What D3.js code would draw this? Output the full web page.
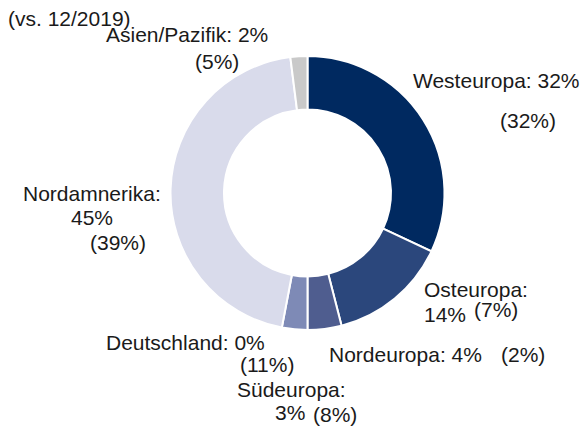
<!DOCTYPE html>
<html>
<head>
<meta charset="utf-8">
<script src="https://cdn.jsdelivr.net/npm/d3@7"></script>
<style>
  html, body { margin: 0; padding: 0; background: #fff; }
  svg text { font-family: "Liberation Sans", Arial, sans-serif; font-size: 21px; fill: #1a1a1a; }
</style>
</head>
<body>
<div id="chart"></div>
<script>
// regions, share now and share at 12/2019
const regions = ['Westeuropa', 'Osteuropa', 'Nordeuropa', 'Südeuropa', 'Deutschland', 'Nordamnerika', 'Asien/Pazifik'];
const shareNow = [32, 14, 4, 3, 0, 45, 2];
const share2019 = [32, 7, 2, 8, 11, 39, 5];
const colors = ['#002960', '#2b477c', '#4f5d8f', '#7e8ab6', '#a9b0d0', '#d9dbeb', '#c9c9c9'];

const w = 586, h = 427;
const cx = 307.5, cy = 193, outerR = 137, innerR = 83.5;

// label lines per region: [text, x, baseline]
const labelLayout = {
  'Westeuropa': [[r => r + ': ' + shareNow[0] + '%', 413, 88], [() => '(' + share2019[0] + '%)', 500, 128]],
  'Osteuropa': [[r => r + ':', 424, 297], [() => shareNow[1] + '%', 424, 322], [() => '(' + share2019[1] + '%)', 474, 317]],
  'Nordeuropa': [[r => r + ': ' + shareNow[2] + '%', 329, 362], [() => '(' + share2019[2] + '%)', 501, 362]],
  'Südeuropa': [[r => r + ':', 237, 397], [() => shareNow[3] + '%', 275, 420], [() => '(' + share2019[3] + '%)', 313, 422]],
  'Deutschland': [[r => r + ': ' + shareNow[4] + '%', 106, 350], [() => '(' + share2019[4] + '%)', 240, 372]],
  'Nordamnerika': [[r => r + ':', 23, 201], [() => shareNow[5] + '%', 71, 225], [() => '(' + share2019[5] + '%)', 90, 250]],
  'Asien/Pazifik': [[r => r + ': ' + shareNow[6] + '%', 106, 42], [() => '(' + share2019[6] + '%)', 195, 69]]
};

const data = regions.map((r, i) => ({ region: r, value: shareNow[i], prev: share2019[i], color: colors[i] }));

const svg = d3.select('#chart').append('svg')
  .attr('width', w)
  .attr('height', h);

const pie = d3.pie().sort(null).value(d => d.value);
const arc = d3.arc().innerRadius(innerR).outerRadius(outerR);

svg.append('g')
  .attr('transform', 'translate(' + cx + ',' + cy + ')')
  .selectAll('path')
  .data(pie(data).filter(d => d.data.value > 0))
  .enter()
  .append('path')
  .attr('d', arc)
  .attr('fill', d => d.data.color)
  .attr('stroke', '#fff')
  .attr('stroke-width', 2);

svg.append('text')
  .attr('x', 8)
  .attr('y', 26)
  .text('(vs. 12/2019)');

regions.forEach(r => {
  labelLayout[r].forEach(([fn, x, y]) => {
    svg.append('text')
      .attr('x', x)
      .attr('y', y)
      .text(fn(r));
  });
});
</script>
</body>
</html>
